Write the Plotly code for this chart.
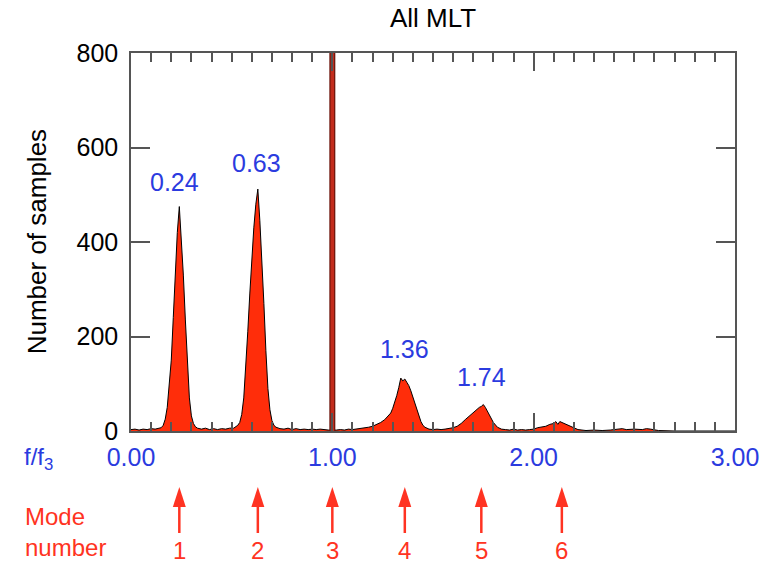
import plotly.graph_objects as go

# Histogram of normalised frequency f/f3 (all MLT)
freq = [0.00, 0.02, 0.04, 0.06, 0.08, 0.10, 0.12, 0.14, 0.15, 0.16, 0.17, 0.18, 0.19,
        0.20, 0.21, 0.22, 0.23, 0.24, 0.25, 0.26, 0.27, 0.28, 0.29, 0.30, 0.31, 0.32,
        0.33, 0.35, 0.37, 0.39, 0.41, 0.43, 0.45, 0.47, 0.49, 0.51, 0.52, 0.53, 0.54,
        0.55, 0.56, 0.57, 0.58, 0.59, 0.60, 0.61, 0.62, 0.63, 0.64, 0.65, 0.66, 0.67,
        0.68, 0.69, 0.70, 0.71, 0.72, 0.74, 0.76, 0.78, 0.80, 0.82, 0.84, 0.86, 0.88,
        0.90, 0.92, 0.94, 0.96, 0.98, 1.02, 1.04, 1.06, 1.08, 1.10, 1.12, 1.14, 1.16,
        1.18, 1.20, 1.22, 1.24, 1.26, 1.28, 1.29, 1.30, 1.31, 1.32, 1.33, 1.34, 1.35,
        1.36, 1.37, 1.38, 1.39, 1.40, 1.41, 1.42, 1.43, 1.44, 1.45, 1.46, 1.48, 1.50,
        1.52, 1.54, 1.56, 1.58, 1.60, 1.62, 1.64, 1.66, 1.68, 1.70, 1.72, 1.73, 1.74,
        1.75, 1.76, 1.77, 1.78, 1.80, 1.82, 1.84, 1.86, 1.88, 1.90, 1.92, 1.94, 1.96,
        1.98, 2.00, 2.02, 2.04, 2.06, 2.08, 2.10, 2.11, 2.12, 2.13, 2.14, 2.16, 2.18,
        2.20, 2.22, 2.24, 2.26, 2.30, 2.34, 2.38, 2.42, 2.44, 2.46, 2.50, 2.54, 2.56,
        2.58, 2.60, 2.62, 2.70, 3.00]
samples = [3, 4, 2, 4, 3, 5, 4, 5, 7, 12, 25, 50, 95,
           150, 240, 335, 420, 475, 410, 330, 235, 140, 70, 32, 16, 9,
           6, 4, 6, 3, 5, 3, 5, 4, 6, 6, 9, 12, 18,
           35, 70, 130, 210, 290, 365, 430, 480, 512, 445, 365, 270, 170,
           90, 45, 22, 12, 8, 5, 4, 6, 3, 5, 3, 4, 3,
           4, 3, 4, 3, 2, 2, 3, 2, 4, 3, 4, 5, 6,
           8, 10, 14, 18, 24, 32, 38, 48, 60, 75, 92, 112, 106,
           110, 103, 96, 85, 72, 60, 45, 32, 20, 12, 8, 4, 3,
           4, 3, 4, 5, 7, 10, 16, 24, 32, 40, 46, 50, 52,
           56, 50, 42, 32, 18, 8, 4, 3, 2, 4, 2, 3, 2,
           3, 4, 7, 8, 10, 14, 16, 20, 14, 20, 18, 14, 10,
           6, 3, 2, 1, 2, 1, 2, 3, 5, 3, 4, 3, 5,
           4, 2, 1, 0, 0]

# Fundamental reference f/f3 = 1 (off scale)
ref_freq = 1.0
y_max = 800

# Peak positions labelled above each peak
peak_labels = ["0.24", "0.63", "1.36", "1.74"]
peak_label_x = [0.218, 0.624, 1.359, 1.740]
peak_label_y = [527, 567, 174, 114]

# Mode numbers and their f/f3 positions
mode_numbers = ["1", "2", "3", "4", "5", "6"]
mode_freq = [0.24, 0.63, 1.00, 1.36, 1.74, 2.14]

x_ticks = [0, 1, 2, 3]
x_tick_text = ["0.00", "1.00", "2.00", "3.00"]

FONT = "Liberation Sans, Arial, Helvetica, sans-serif"
BLUE = "#2b3bdf"
RED = "#ff2d0a"
ARROW_RED = "#ff3322"
AXIS = "#555555"

fig = go.Figure()

fig.add_trace(go.Scatter(
    x=freq, y=samples, mode="lines", fill="tozeroy",
    fillcolor=RED, line=dict(color="black", width=1),
    hoverinfo="skip", showlegend=False,
))

# Off-scale reference bin at f/f3 = 1
fig.add_trace(go.Scatter(
    x=[ref_freq, ref_freq], y=[0, y_max], mode="lines",
    line=dict(color="#6e160c", width=6), showlegend=False, hoverinfo="skip",
))
fig.add_trace(go.Scatter(
    x=[ref_freq, ref_freq], y=[0, y_max], mode="lines",
    line=dict(color="#c22c1c", width=3.5), showlegend=False, hoverinfo="skip",
))

annotations = []
for txt, xv, yv in zip(peak_labels, peak_label_x, peak_label_y):
    annotations.append(dict(
        x=xv, y=yv, xref="x", yref="y", text=txt, showarrow=False,
        xanchor="center", yanchor="middle",
        font=dict(family=FONT, size=25, color=BLUE),
    ))

# Arrows for each mode (pixel geometry converted to paper/data units)
plot_h = 378.0
plot_w = 606.0
px_per_x = plot_w / 3.0
apex_y = -(487 - 431) / plot_h
base_y = -(507 - 431) / plot_h
tail_y = -(533 - 431) / plot_h
half_w = 6.5 / px_per_x

shapes = []
for m in mode_freq:
    shapes.append(dict(
        type="line", xref="x", yref="paper", x0=m, x1=m, y0=base_y + 0.005, y1=tail_y,
        line=dict(color=ARROW_RED, width=2.5),
    ))
    shapes.append(dict(
        type="path", xref="x", yref="paper",
        path=f"M {m - half_w},{base_y} L {m},{apex_y} L {m + half_w},{base_y} Z",
        fillcolor=ARROW_RED, line=dict(color=ARROW_RED, width=0),
    ))

for txt, m in zip(mode_numbers, mode_freq):
    annotations.append(dict(
        x=m, y=-(550 - 431) / plot_h, xref="x", yref="paper", text=txt,
        showarrow=False, xanchor="center", yanchor="middle",
        font=dict(family=FONT, size=24, color=ARROW_RED),
    ))

annotations.append(dict(
    x=-(131 - 23) / plot_w, y=-(532 - 431) / plot_h, xref="paper", yref="paper",
    text="Mode<br>number", showarrow=False, align="left",
    xanchor="left", yanchor="middle",
    font=dict(family=FONT, size=24, color=ARROW_RED),
))
annotations.append(dict(
    x=-(131 - 22) / plot_w, y=-(459 - 431) / plot_h, xref="paper", yref="paper",
    text="f/f<sub>3</sub>", showarrow=False, xanchor="left", yanchor="middle",
    font=dict(family=FONT, size=24, color=BLUE),
))
annotations.append(dict(
    x=-(131 - 37) / plot_w, y=0.5, xref="paper", yref="paper",
    text="Number of samples", textangle=-90, showarrow=False,
    xanchor="center", yanchor="middle",
    font=dict(family=FONT, size=26, color="black"),
))

fig.update_layout(
    width=771, height=566,
    margin=dict(l=131, r=34, t=53, b=135),
    paper_bgcolor="white", plot_bgcolor="white",
    title=dict(text="All MLT", x=0.5, xref="paper", y=1 - 18 / 566,
               yanchor="middle", font=dict(family=FONT, size=26, color="black")),
    xaxis=dict(
        range=[0, 3], tickvals=x_ticks, ticktext=x_tick_text,
        ticks="inside", ticklen=18, tickwidth=1.5, tickcolor=AXIS,
        minor=dict(dtick=0.1, ticks="inside", ticklen=9, tickwidth=1.5, tickcolor=AXIS),
        showline=True, linecolor=AXIS, linewidth=1.5, mirror="ticks",
        showgrid=False, zeroline=False,
        tickfont=dict(family=FONT, size=25, color=BLUE), ticklabelstandoff=3,
    ),
    yaxis=dict(
        range=[0, y_max], dtick=200,
        ticks="inside", ticklen=19, tickwidth=1.5, tickcolor=AXIS,
        showline=True, linecolor=AXIS, linewidth=1.5, mirror="ticks",
        showgrid=False, zeroline=False,
        tickfont=dict(family=FONT, size=25, color="black"), ticklabelstandoff=6,
    ),
    annotations=annotations,
    shapes=shapes,
)

fig.write_html("out.html")
